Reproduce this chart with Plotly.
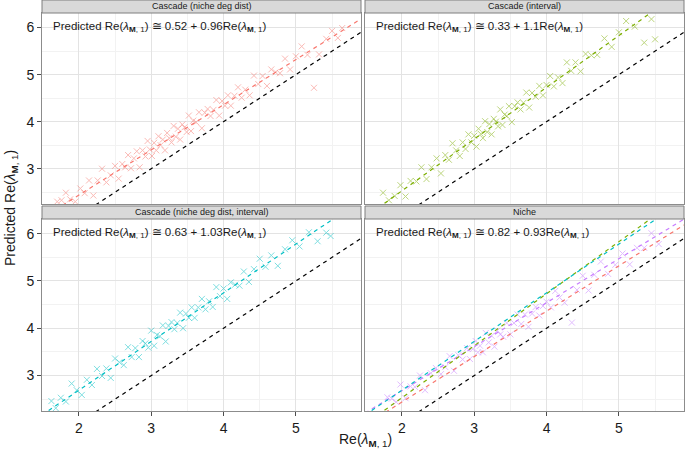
import plotly.graph_objects as go

W, H = 685, 456

panel_titles = ["Cascade (niche deg dist)", "Cascade (interval)",
                "Cascade (niche deg dist, interval)", "Niche"]
fit_text = ["0.52 + 0.96", "0.33 + 1.1", "0.63 + 1.03", "0.82 + 0.93"]
intercepts = [0.52, 0.33, 0.63, 0.82]
slopes = [0.96, 1.1, 1.03, 0.93]
point_colors = ["#F8766D", "#7CAE00", "#00BFC4", "#C77CFF"]

x_ticks = [2, 3, 4, 5]
y_ticks = [3, 4, 5, 6]

# Panel 1: Cascade (niche deg dist)
x1 = [1.70, 1.76, 1.82, 1.88, 1.95, 2.02, 2.08, 2.14, 2.20, 2.26, 2.32, 2.38, 2.44, 2.50, 2.55,
      2.60, 2.64, 2.68, 2.72, 2.76, 2.80, 2.84, 2.88, 2.92, 2.95, 2.98, 3.01, 3.04, 3.07, 3.10,
      3.13, 3.16, 3.19, 3.22, 3.25, 3.28, 3.31, 3.34, 3.37, 3.40, 3.43, 3.46, 3.49, 3.52, 3.55,
      3.58, 3.62, 3.66, 3.70, 3.74, 3.78, 3.82, 3.86, 3.90, 3.94, 3.98, 4.02, 4.06, 4.10, 4.15,
      4.20, 4.25, 4.30, 4.36, 4.42, 4.48, 4.54, 4.60, 4.66, 4.72, 4.78, 4.85, 4.92, 5.00, 5.08,
      5.16, 5.25, 5.32, 5.42, 5.50, 5.58, 5.64]
y1 = [2.30, 2.33, 2.49, 2.35, 2.30, 2.58, 2.48, 2.75, 2.43, 2.75, 3.00, 2.71, 2.86, 3.06, 2.79,
      3.10, 3.03, 3.29, 3.01, 3.22, 3.37, 3.03, 3.39, 3.26, 3.59, 3.41, 3.27, 3.55, 3.39, 3.69,
      3.50, 3.62, 3.39, 3.76, 3.65, 3.56, 3.91, 3.68, 3.85, 3.62, 3.94, 3.88, 3.78, 4.13, 3.80,
      4.02, 3.99, 4.20, 3.86, 4.19, 4.27, 4.12, 4.25, 4.46, 4.13, 4.44, 4.34, 4.56, 4.34, 4.55,
      4.73, 4.51, 4.68, 4.56, 4.98, 4.80, 4.97, 4.76, 5.11, 5.05, 5.03, 5.34, 5.11, 5.39, 5.60,
      5.42, 4.72, 5.43, 5.76, 5.93, 5.78, 5.99]

# Panel 2: Cascade (interval)
x2 = [1.74, 1.82, 1.90, 1.98, 2.05, 2.12, 2.20, 2.27, 2.34, 2.41, 2.48, 2.54, 2.60, 2.65, 2.70,
      2.75, 2.80, 2.84, 2.88, 2.92, 2.96, 3.00, 3.03, 3.06, 3.09, 3.12, 3.15, 3.18, 3.21, 3.24,
      3.27, 3.30, 3.33, 3.36, 3.39, 3.42, 3.45, 3.48, 3.52, 3.56, 3.60, 3.64, 3.68, 3.72, 3.76,
      3.80, 3.85, 3.90, 3.95, 4.00, 4.05, 4.10, 4.16, 4.22, 4.28, 4.34, 4.40, 4.47, 4.54, 4.62,
      4.70, 4.80, 4.90, 5.00, 5.10, 5.22, 5.35, 5.45, 5.50]
y2 = [2.49, 2.33, 2.42, 2.65, 2.41, 2.74, 2.73, 3.03, 2.78, 3.03, 3.22, 2.90, 3.29, 3.19, 3.54,
      3.39, 3.27, 3.56, 3.42, 3.73, 3.56, 3.70, 3.47, 3.85, 3.74, 3.65, 4.01, 3.78, 3.95, 3.73,
      4.06, 4.00, 3.90, 4.26, 3.93, 4.15, 4.12, 4.33, 3.99, 4.33, 4.41, 4.26, 4.40, 4.62, 4.30,
      4.61, 4.53, 4.76, 4.56, 4.78, 4.97, 4.75, 4.94, 4.82, 5.26, 5.08, 5.26, 5.07, 5.44, 5.41,
      5.42, 5.77, 5.59, 5.90, 6.14, 6.02, 5.68, 6.18, 5.75]

# Panel 3: Cascade (niche deg dist, interval)
x3 = [1.62, 1.68, 1.75, 1.82, 1.90, 1.97, 2.04, 2.11, 2.18, 2.25, 2.32, 2.38, 2.44, 2.50, 2.56,
      2.62, 2.68, 2.73, 2.78, 2.83, 2.88, 2.92, 2.96, 3.00, 3.04, 3.08, 3.12, 3.16, 3.20, 3.24,
      3.28, 3.32, 3.36, 3.40, 3.44, 3.48, 3.52, 3.56, 3.60, 3.65, 3.70, 3.75, 3.80, 3.85, 3.90,
      3.95, 4.00, 4.05, 4.10, 4.16, 4.22, 4.28, 4.35, 4.42, 4.50, 4.58, 4.66, 4.75, 4.85, 4.95,
      5.05, 5.18, 5.30, 5.42, 5.48]
y3 = [2.46, 2.31, 2.53, 2.45, 2.83, 2.69, 2.59, 2.91, 2.80, 3.14, 2.99, 3.15, 2.95, 3.36, 3.28,
      3.22, 3.60, 3.39, 3.58, 3.39, 3.73, 3.68, 3.59, 3.95, 3.63, 3.86, 3.83, 4.06, 3.72, 4.05,
      4.13, 3.98, 4.11, 4.33, 4.00, 4.31, 4.22, 4.44, 4.22, 4.44, 4.62, 4.40, 4.57, 4.45, 4.87,
      4.68, 4.84, 4.62, 4.97, 4.92, 4.90, 5.20, 4.98, 5.25, 5.47, 5.30, 5.54, 5.32, 5.67, 5.86,
      5.73, 6.03, 5.84, 6.02, 5.95]

# Panel 4: Niche
x4 = [1.80, 1.86, 1.92, 1.98, 2.05, 2.12, 2.18, 2.25, 2.32, 2.40, 2.47, 2.54, 2.60, 2.66, 2.72,
      2.78, 2.84, 2.90, 2.94, 2.98, 3.02, 3.05, 3.08, 3.12, 3.16, 3.20, 3.24, 3.28, 3.32, 3.36,
      3.40, 3.45, 3.50, 3.55, 3.60, 3.65, 3.70, 3.75, 3.80, 3.85, 3.90, 3.95, 4.00, 4.06, 4.12,
      4.18, 4.25, 4.35, 4.42, 4.50, 4.58, 4.66, 4.75, 4.85, 4.95, 5.05, 5.15, 5.25, 5.35, 5.45,
      5.55]
y4 = [2.54, 2.51, 2.44, 2.81, 2.52, 2.77, 2.76, 3.00, 2.69, 3.05, 3.16, 3.03, 3.18, 3.41, 3.10,
      3.43, 3.34, 3.58, 3.35, 3.56, 3.73, 3.49, 3.63, 3.49, 3.90, 3.70, 3.84, 3.61, 3.95, 3.87,
      3.82, 4.11, 3.87, 4.11, 4.29, 4.09, 4.29, 4.03, 4.31, 4.45, 4.27, 4.47, 4.56, 4.44, 4.79,
      4.65, 4.54, 4.12, 4.81, 5.11, 4.80, 5.13, 5.41, 5.15, 5.34, 5.58, 5.35, 5.70, 5.70, 6.01,
      5.78]

xs = [x1, x2, x3, x4]
ys = [y1, y2, y3, y4]

x_range = [1.49, 5.9]
y_range = [2.25, 6.31]

# panel geometry (paper fractions)
xdom = [[42 / W, 361 / W], [365 / W, 684 / W]]
ydom_top = [(H - 204) / H, (H - 13) / H]
ydom_bot = [(H - 411) / H, (H - 219) / H]
strip_top = [(H - 13) / H, 1.0]
strip_bot = [(H - 219) / H, (H - 206) / H]

grid_major = "#E3E3E3"
grid_minor = "#F2F2F2"
border = "#8C8C8C"
txt = "#1A1A1A"

fig = go.Figure()
layout = dict(width=W, height=H, margin=dict(l=0, r=0, t=0, b=0),
              plot_bgcolor="white", paper_bgcolor="white", showlegend=False,
              font=dict(family="Liberation Sans, Arial, sans-serif", color=txt))

shapes = []
annotations = []
lam = "Re(<i>λ</i><sub><b>M</b>, 1</sub>)"

for i in range(4):
    row, col = divmod(i, 2)
    idx = "" if i == 0 else str(i + 1)
    xa, ya = "x" + idx, "y" + idx
    ydom = ydom_top if row == 0 else ydom_bot
    sdom = strip_top if row == 0 else strip_bot
    layout["xaxis" + idx] = dict(
        domain=xdom[col], range=x_range, anchor=ya, tickvals=x_ticks,
        showticklabels=(row == 1), ticks="outside" if row == 1 else "", ticklen=4,
        tickcolor="#4D4D4D", tickfont=dict(size=14, color=txt),
        showgrid=True, gridcolor=grid_major, gridwidth=1,
        minor=dict(dtick=0.5, tick0=1.5, showgrid=True, gridcolor=grid_minor, gridwidth=1),
        showline=True, linecolor=border, linewidth=1, mirror=True, zeroline=False)
    layout["yaxis" + idx] = dict(
        domain=ydom, range=y_range, anchor=xa, tickvals=y_ticks,
        showticklabels=(col == 0), ticks="outside" if col == 0 else "", ticklen=4,
        tickcolor="#4D4D4D", tickfont=dict(size=14, color=txt),
        showgrid=True, gridcolor=grid_major, gridwidth=1,
        minor=dict(dtick=0.5, tick0=2.5, showgrid=True, gridcolor=grid_minor, gridwidth=1),
        showline=True, linecolor=border, linewidth=1, mirror=True, zeroline=False)

    # points
    fig.add_trace(go.Scatter(
        x=xs[i], y=ys[i], mode="markers", xaxis=xa, yaxis=ya,
        marker=dict(symbol="x-thin", size=6, line=dict(width=1, color=point_colors[i]),
                    color=point_colors[i], opacity=0.5),
        hoverinfo="skip"))

    # identity line
    fig.add_trace(go.Scatter(
        x=x_range, y=x_range, mode="lines", xaxis=xa, yaxis=ya,
        line=dict(color="black", width=1.2, dash="4px,4px"), hoverinfo="skip"))

    # fitted lines
    fits = [i] if i < 3 else [3, 0, 1, 2]
    for k in fits:
        fig.add_trace(go.Scatter(
            x=x_range, y=[intercepts[k] + slopes[k] * v for v in x_range],
            mode="lines", xaxis=xa, yaxis=ya,
            line=dict(color=point_colors[k], width=1.2, dash="4px,4px"), hoverinfo="skip"))

    # strip
    shapes.append(dict(type="rect", xref="paper", yref="paper",
                       x0=xdom[col][0], x1=xdom[col][1], y0=sdom[0], y1=sdom[1],
                       fillcolor="#D9D9D9", line=dict(color="#7F7F7F", width=1), layer="above"))
    annotations.append(dict(text=panel_titles[i], xref="paper", yref="paper",
                            x=(xdom[col][0] + xdom[col][1]) / 2, y=(sdom[0] + sdom[1]) / 2,
                            xanchor="center", yanchor="middle", showarrow=False,
                            font=dict(size=9, color=txt)))
    # equation
    annotations.append(dict(text="Predicted " + lam + " ≅ " + fit_text[i] + lam,
                            xref="paper", yref="paper",
                            x=xdom[col][0] + 9 / W, y=ydom[1] - 14 / H,
                            xanchor="left", yanchor="middle", showarrow=False,
                            font=dict(size=11.5, color=txt)))

annotations.append(dict(text=lam, xref="paper", yref="paper",
                        x=365 / W, y=(H - 440) / H, xanchor="center", yanchor="middle",
                        showarrow=False, font=dict(size=14, color=txt)))
annotations.append(dict(text="Predicted " + lam, xref="paper", yref="paper",
                        x=11 / W, y=(H - 208) / H, xanchor="center", yanchor="middle",
                        textangle=-90, showarrow=False, font=dict(size=14, color=txt)))

layout["shapes"] = shapes
layout["annotations"] = annotations
fig.update_layout(**layout)
fig.write_html("out.html", config={"displayModeBar": False},
               post_script="document.body.style.margin='0';document.body.style.padding='0';")
